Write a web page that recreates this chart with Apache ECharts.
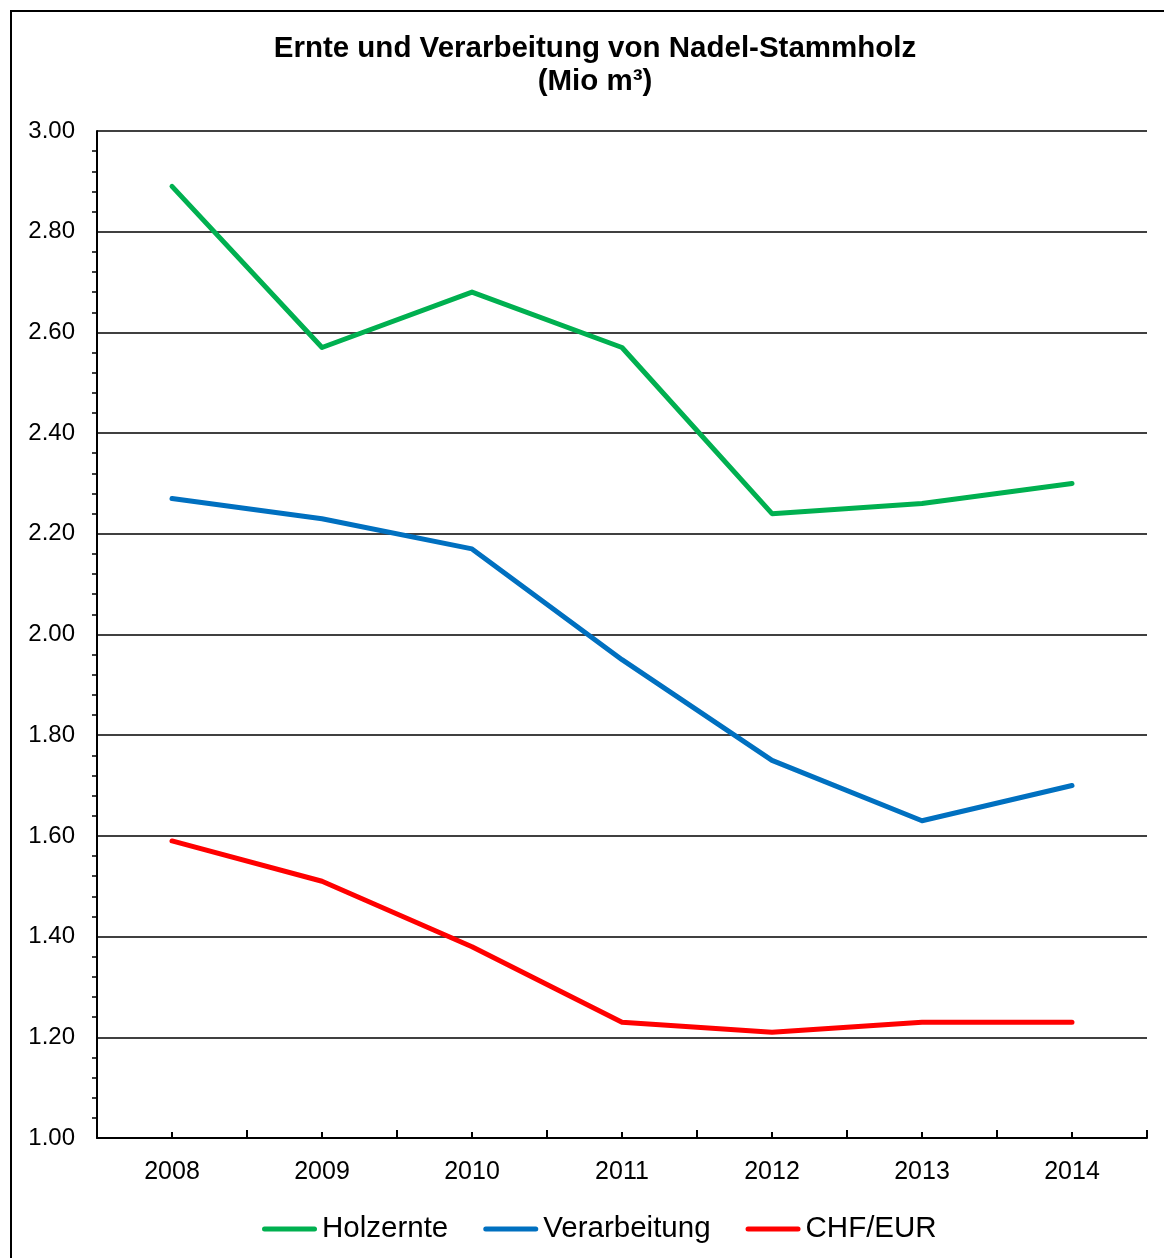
<!DOCTYPE html>
<html>
<head>
<meta charset="utf-8">
<script src="https://cdn.jsdelivr.net/npm/echarts@6/dist/echarts.min.js"></script>
<style>
html,body{margin:0;padding:0;background:#fff;}
#chart{width:1164px;height:1258px;}
</style>
</head>
<body>
<div id="chart"></div>
<script>
var years = ['2008','2009','2010','2011','2012','2013','2014'];
var holzernte = [2.89, 2.57, 2.68, 2.57, 2.24, 2.26, 2.30];
var verarbeitung = [2.27, 2.23, 2.17, 1.95, 1.75, 1.63, 1.70];
var chfEur = [1.59, 1.51, 1.38, 1.23, 1.21, 1.23, 1.23];
var seriesNames = ['Holzernte', 'Verarbeitung', 'CHF/EUR'];
var titleText = 'Ernte und Verarbeitung von Nadel-Stammholz\n(Mio m\u00b3)';

var FONT = '"Liberation Sans", Arial, sans-serif';
var chart = echarts.init(document.getElementById('chart'), null, {renderer: 'canvas'});

function lineSeries(name, data, color) {
  return {
    name: name, type: 'line', data: data,
    symbol: 'none', showSymbol: false,
    xAxisIndex: 0,
    lineStyle: {color: color, width: 5, cap: 'round', join: 'round'},
    itemStyle: {color: color},
    z: 5
  };
}

chart.setOption({
  backgroundColor: '#fff',
  animation: false,
  graphic: [{
    type: 'rect', silent: true, z: 0,
    shape: {x: 11, y: 11, width: 1200, height: 1300},
    style: {fill: 'none', stroke: '#000', lineWidth: 2}
  }],
  title: {
    text: titleText,
    left: 595, top: 32, textAlign: 'center', padding: 0,
    textStyle: {fontFamily: FONT, fontWeight: 'bold', fontSize: 29.5, lineHeight: 33, color: '#000'}
  },
  legend: {
    data: seriesNames,
    left: 262, top: 1214, padding: 0,
    icon: 'path://M2.5,0 L52.5,0 A2.5,2.5 0 0 1 52.5,5 L2.5,5 A2.5,2.5 0 0 1 2.5,0 Z',
    itemWidth: 55, itemHeight: 5, itemGap: 35,
    textStyle: {fontFamily: FONT, fontSize: 29.5, color: '#000'}
  },
  grid: {left: 97, right: 17, top: 131, bottom: 120, containLabel: false},
  xAxis: [{
    type: 'category', data: years, boundaryGap: true,
    axisLine: {lineStyle: {color: '#000', width: 2}},
    axisTick: {show: true, inside: true, length: 8, lineStyle: {color: '#000', width: 2}},
    axisLabel: {fontFamily: FONT, fontSize: 25, color: '#000', margin: 22},
    splitLine: {show: false}
  }, {
    type: 'category', data: years, boundaryGap: true, position: 'bottom',
    axisLine: {show: false},
    axisTick: {show: true, inside: true, alignWithLabel: true, length: 6, lineStyle: {color: '#000', width: 2}},
    axisLabel: {show: false},
    splitLine: {show: false}
  }],
  yAxis: {
    type: 'value', min: 1, max: 3, interval: 0.2,
    axisLine: {show: true, lineStyle: {color: '#000', width: 2}},
    axisTick: {show: false},
    minorTick: {show: true, splitNumber: 5, length: 5, lineStyle: {color: '#000', width: 1.5}},
    axisLabel: {
      fontFamily: FONT, fontSize: 24, color: '#000', margin: 22,
      formatter: function (v) { return v.toFixed(2); }
    },
    splitLine: {show: true, lineStyle: {color: '#000', width: 1.5}}
  },
  series: [
    lineSeries(seriesNames[0], holzernte, '#00B050'),
    lineSeries(seriesNames[1], verarbeitung, '#0070C0'),
    lineSeries(seriesNames[2], chfEur, '#FF0000')
  ]
});
</script>
</body>
</html>
